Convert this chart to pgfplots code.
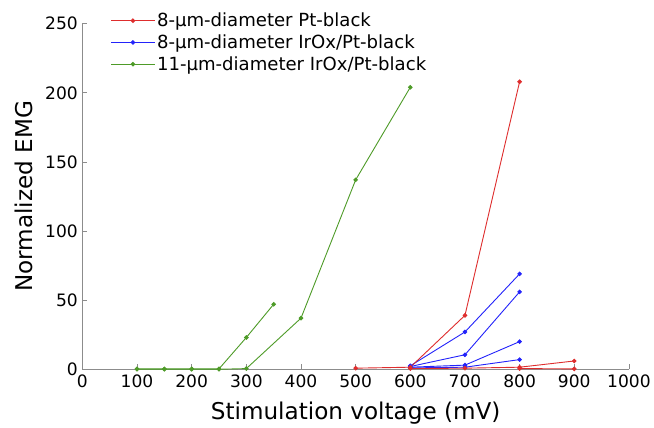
\documentclass[border=0pt]{standalone}
\usepackage{pgfplots}
\pgfplotsset{compat=1.18}
\usepackage{fontspec}
\setmainfont{DejaVu Sans}
\definecolor{cred}{RGB}{222,45,45}
\definecolor{cblue}{RGB}{35,35,250}
\definecolor{cgreen}{RGB}{78,155,40}
\begin{document}
\begin{tikzpicture}
\begin{axis}[
  scale only axis,
  width=544pt, height=344pt,
  xmin=0, xmax=1000, ymin=0, ymax=250,
  xtick={0,100,...,1000}, ytick={0,50,...,250},
  axis x line*=bottom, axis y line*=left,
  axis line style={draw=gray!90, line width=0.8pt, -},
  tick style={draw=gray!90, line width=0.8pt},
  tick align=inside, major tick length=5pt,
  /pgf/number format/assume math mode=true,
  /pgf/number format/1000 sep={},
  tick label style={font=\fontsize{17}{20}\selectfont},
  xticklabel style={yshift=-2pt},
  yticklabel style={xshift=-1pt},
  label style={font=\fontsize{23}{27}\selectfont},
  xlabel={Stimulation voltage (mV)},
  ylabel={Normalized EMG},
  xlabel shift=7pt, ylabel shift=5pt,
  every axis plot/.append style={line width=0.9pt, mark=*, mark size=1.8pt},
  legend style={draw=none, fill=none, at={(0.05,1.04)}, anchor=north west,
    font=\fontsize{18}{21}\selectfont, row sep=2.5pt, inner sep=1pt},
  legend image code/.code={\draw[mark repeat=2, mark phase=2, #1] plot coordinates {(0pt,0pt) (21.5pt,0pt) (43pt,0pt)};},
  legend cell align=left,
]
\addlegendimage{cred, line width=0.9pt, mark=*, mark size=1.8pt}
\addlegendentry{8-µm-diameter Pt-black}
\addlegendimage{cblue, line width=0.9pt, mark=*, mark size=1.8pt}
\addlegendentry{8-µm-diameter IrOx/Pt-black}
\addlegendimage{cgreen, line width=0.9pt, mark=*, mark size=1.8pt}
\addlegendentry{11-µm-diameter IrOx/Pt-black}
% green
\addplot[cgreen, forget plot] coordinates {(100,0.3) (150,0.3) (200,0.3) (250,0.3) (300,23) (350,47)};
\addplot[cgreen, forget plot] coordinates {(100,0) (150,0) (200,0) (250,0) (300,0.5) (400,37) (500,137) (600,204)};
% blue
\addplot[cblue, forget plot] coordinates {(600,2.5) (700,27) (800,69)};
\addplot[cblue, forget plot] coordinates {(600,2) (700,10.5) (800,56)};
\addplot[cblue, forget plot] coordinates {(600,1.5) (700,3) (800,20)};
\addplot[cblue, forget plot] coordinates {(600,1) (700,1.5) (800,7)};
% red
\addplot[cred, forget plot] coordinates {(500,0.8) (600,1.5) (700,39) (800,208)};
\addplot[cred, forget plot] coordinates {(600,0.5) (700,0.8) (800,1.5) (900,6)};
\addplot[cred, forget plot] coordinates {(800,0.5) (900,0.3)};
\end{axis}
\path ([xshift=-12pt]current bounding box.west) ([yshift=10pt]current bounding box.north);
\end{tikzpicture}
\end{document}
